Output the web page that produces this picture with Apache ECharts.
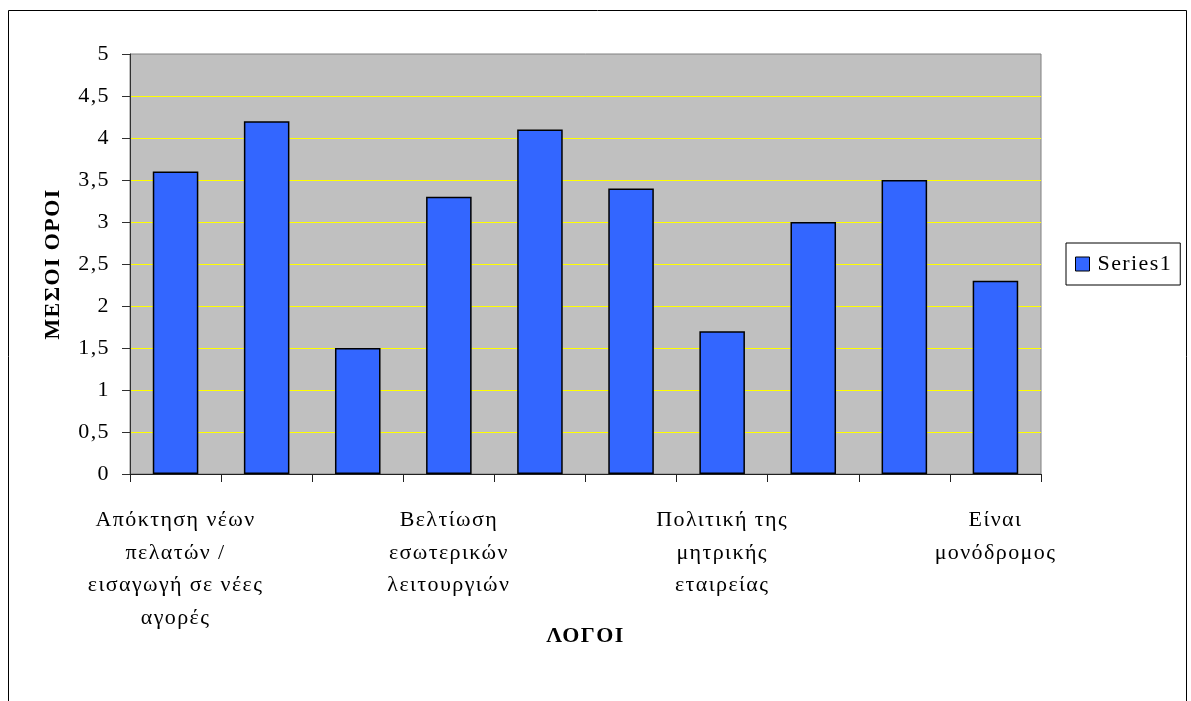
<!DOCTYPE html>
<html>
<head>
<meta charset="utf-8">
<script src="https://cdn.jsdelivr.net/npm/echarts@6/dist/echarts.min.js"></script>
<style>
  html, body { margin: 0; padding: 0; background: #fff; }
  #chart { width: 1191px; height: 701px; }
</style>
</head>
<body>
<div id="chart"></div>
<script>
// Reasons (ΛΟΓΟΙ) – only every third category carries a visible label
const categories = [
  'Απόκτηση νέων\nπελατών /\nεισαγωγή σε νέες\nαγορές', '', '',
  'Βελτίωση\nεσωτερικών\nλειτουργιών', '', '',
  'Πολιτική της\nμητρικής\nεταιρείας', '', '',
  'Είναι\nμονόδρομος'
];
// Mean scores (ΜΕΣΟΙ ΟΡΟΙ)
const series1 = [3.6, 4.2, 1.5, 3.3, 4.1, 3.4, 1.7, 3.0, 3.5, 2.3];
const seriesName = 'Series1';
const yTitle = 'ΜΕΣΟΙ ΟΡΟΙ';
const xTitle = 'ΛΟΓΟΙ';

// wide-set lettering for every label drawn on the canvas
(function () {
  const proto = CanvasRenderingContext2D.prototype;
  const fill = proto.fillText;
  proto.fillText = function () {
    if ('letterSpacing' in this) this.letterSpacing = '1.4px';
    return fill.apply(this, arguments);
  };
})();

const serif = '"Liberation Serif", "DejaVu Serif", serif';
const chart = echarts.init(document.getElementById('chart'), null, { renderer: 'canvas' });

chart.setOption({
  animation: false,
  backgroundColor: '#ffffff',
  graphic: [{
    type: 'rect',
    shape: { x: 8.5, y: 10.5, width: 1178, height: 700 },
    style: { fill: 'none', stroke: '#000', lineWidth: 1 },
    silent: true
  }],
  grid: {
    left: 130, top: 54, right: 150, bottom: 227,
    show: true, backgroundColor: '#C0C0C0', borderColor: '#808080', borderWidth: 1
  },
  legend: {
    data: [seriesName],
    orient: 'vertical',
    left: 1066, top: 243,
    padding: [10, 18, 10, 9],
    borderColor: '#000', borderWidth: 1,
    backgroundColor: '#fff',
    icon: 'rect', itemWidth: 14, itemHeight: 14, itemGap: 4,
    itemStyle: { borderColor: '#000', borderWidth: 1 },
    textStyle: { fontFamily: serif, fontSize: 22, color: '#000', padding: [0, 0, 0, 3] }
  },
  xAxis: {
    type: 'category',
    data: categories,
    name: xTitle,
    nameLocation: 'middle',
    nameGap: 151,
    nameMoveOverlap: false,
    nameTextStyle: { fontFamily: serif, fontSize: 22, fontWeight: 'bold', color: '#000' },
    axisLine: { lineStyle: { color: '#202020', width: 1 } },
    axisTick: { show: true, interval: 0, length: 8, lineStyle: { color: '#202020' } },
    axisLabel: {
      interval: 0, margin: 30, fontFamily: serif, fontSize: 22, color: '#000',
      lineHeight: 32.5, align: 'center'
    },
    splitLine: { show: false }
  },
  yAxis: {
    type: 'value',
    min: 0, max: 5, interval: 0.5,
    name: yTitle,
    nameLocation: 'middle',
    nameRotate: 90,
    nameGap: 66,
    nameMoveOverlap: false,
    nameTextStyle: { fontFamily: serif, fontSize: 22, fontWeight: 'bold', color: '#000' },
    axisLine: { show: true, lineStyle: { color: '#303030', width: 1 } },
    axisTick: { show: true, length: 8, lineStyle: { color: '#303030' } },
    axisLabel: {
      margin: 20, fontFamily: serif, fontSize: 22, color: '#000',
      formatter: v => String(v).replace('.', ',')
    },
    splitLine: { show: true, showMaxLine: false, showMinLine: false, lineStyle: { color: '#FFFF00', width: 1 } }
  },
  series: [{
    name: seriesName,
    type: 'bar',
    data: series1,
    barWidth: '50%',
    itemStyle: { color: '#3366FF', borderColor: '#000', borderWidth: 1.5 }
  }]
});
</script>
</body>
</html>
